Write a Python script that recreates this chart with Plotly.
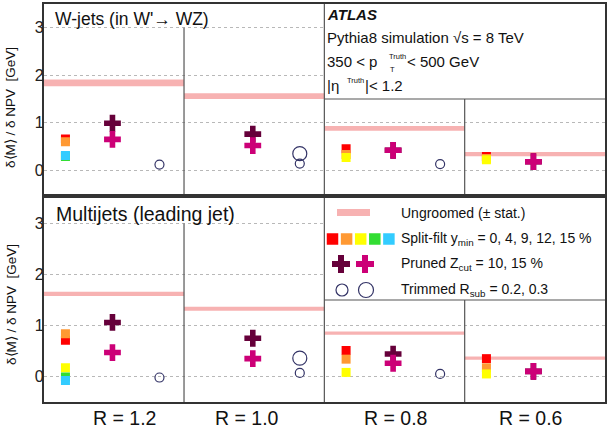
import plotly.graph_objects as go

# ---------------- data ----------------
radii = ["R = 1.2", "R = 1.0", "R = 0.8", "R = 0.6"]

# W-jets (in W' -> WZ)
ungroomed_w = [1.84, 1.56, 0.88, 0.34]
ungroomed_w_err = [0.07, 0.06, 0.05, 0.045]
splitfilt_w = {
    "0": [0.66, None, 0.455, 0.29],
    "4": [0.60, None, 0.33, 0.245],
    "9": [0.30, None, 0.27, 0.22],
    "12": [0.29, None, None, None],
    "15": [0.31, None, None, None],
}
pruned_w = {"10": [0.99, 0.76, 0.42, 0.18], "15": [0.65, 0.52, 0.42, 0.18]}
trimmed_w = {"0.2": [0.12, 0.14, 0.13, None], "0.3": [None, 0.35, None, None]}

# Multijets (leading jet)
ungroomed_m = [1.62, 1.33, 0.85, 0.36]
ungroomed_m_err = [0.04, 0.04, 0.033, 0.033]
splitfilt_m = {
    "0": [0.71, None, 0.51, 0.35],
    "4": [0.84, None, 0.34, 0.17],
    "9": [0.17, None, 0.08, 0.05],
    "12": [-0.01, None, None, None],
    "15": [-0.08, None, None, None],
}
pruned_m = {"10": [1.06, 0.75, 0.44, 0.10], "15": [0.47, 0.35, 0.26, 0.10]}
trimmed_m = {"0.2": [-0.02, 0.07, 0.05, None], "0.3": [None, 0.36, None, None]}

# ---------------- style ----------------
W, H = 608, 428
FONT = "Liberation Sans, Arial, sans-serif"
band_color = "rgba(246,170,170,0.9)"
sf_colors = {"0": "#ff0000", "4": "#ff9933", "9": "#ffff00", "12": "#33dd33", "15": "#33ccff"}
pr_colors = {"10": "#66003a", "15": "#cc0077"}
tr_sizes = {"0.2": 9, "0.3": 14}
circ_color = "#333366"
frame_color = "#333333"
offs = {"sf": 0.155, "pr": 0.49, "tr": 0.825}

def px(x):
    return x / W

def py(y):
    return 1 - y / H

fig = go.Figure()

def add_panel(xa, ya, ung, ung_err, sf, pr, tr):
    for i, (v, e) in enumerate(zip(ung, ung_err)):
        fig.add_trace(go.Scatter(
            x=[i, i + 1, i + 1, i, i], y=[v - e, v - e, v + e, v + e, v - e],
            fill="toself", fillcolor=band_color, line=dict(width=0),
            mode="lines", xaxis=xa, yaxis=ya, showlegend=False, hoverinfo="skip"))
    for k, vals in sf.items():
        xs = [i + offs["sf"] for i, v in enumerate(vals) if v is not None]
        ys = [v for v in vals if v is not None]
        fig.add_trace(go.Scatter(x=xs, y=ys, mode="markers", xaxis=xa, yaxis=ya,
                                 marker=dict(symbol="square", size=9, color=sf_colors[k], line=dict(width=0)),
                                 showlegend=False))
    for k, vals in pr.items():
        xs = [i + offs["pr"] for i, v in enumerate(vals) if v is not None]
        ys = [v for v in vals if v is not None]
        fig.add_trace(go.Scatter(x=xs, y=ys, mode="markers", xaxis=xa, yaxis=ya,
                                 marker=dict(symbol="cross", size=14, color=pr_colors[k], line=dict(width=0)),
                                 showlegend=False))
    for k, vals in tr.items():
        xs = [i + offs["tr"] for i, v in enumerate(vals) if v is not None]
        ys = [v for v in vals if v is not None]
        fig.add_trace(go.Scatter(x=xs, y=ys, mode="markers", xaxis=xa, yaxis=ya,
                                 marker=dict(symbol="circle-open", size=tr_sizes[k], color=circ_color,
                                             line=dict(width=1.2, color=circ_color)),
                                 showlegend=False))

add_panel("x", "y", ungroomed_w, ungroomed_w_err, splitfilt_w, pruned_w, trimmed_w)
add_panel("x2", "y2", ungroomed_m, ungroomed_m_err, splitfilt_m, pruned_m, trimmed_m)

# ---------------- legend samples (pixel coordinates on overlay axis) ----------------
leg_rows_y = [212.5, 239, 264, 290]
fig.add_trace(go.Scatter(x=[337, 370], y=[leg_rows_y[0]] * 2, mode="lines",
                         line=dict(color=band_color, width=7), xaxis="x3", yaxis="y3",
                         showlegend=False, hoverinfo="skip"))
for j, k in enumerate(sf_colors):
    fig.add_trace(go.Scatter(x=[332.5 + 14.1 * j], y=[leg_rows_y[1]], mode="markers",
                             marker=dict(symbol="square", size=11.5, color=sf_colors[k], line=dict(width=0)),
                             xaxis="x3", yaxis="y3", showlegend=False))
for j, k in enumerate(pr_colors):
    fig.add_trace(go.Scatter(x=[341 + 24 * j], y=[leg_rows_y[2]], mode="markers",
                             marker=dict(symbol="cross", size=15, color=pr_colors[k], line=dict(width=0)),
                             xaxis="x3", yaxis="y3", showlegend=False))
for j, k in enumerate(tr_sizes):
    fig.add_trace(go.Scatter(x=[342 + 24 * j], y=[leg_rows_y[3]], mode="markers",
                             marker=dict(symbol="circle-open", size=[12, 15][j], color=circ_color,
                                         line=dict(width=1.2, color=circ_color)),
                             xaxis="x3", yaxis="y3", showlegend=False))

# ---------------- axes ----------------
xdom = [43.7 / W, 605 / W]
ytop = [py(194), py(4)]
ybot = [py(402), py(198)]
yax = dict(range=[-0.5, 3.5], tickvals=[0, 1, 2, 3], ticks="", showgrid=True,
           gridcolor="#b8b8b8", griddash="dot", gridwidth=1, zeroline=False,
           showline=True, mirror=True, linecolor=frame_color, linewidth=1.5,
           ticklabelstandoff=-5,
           tickfont=dict(family=FONT, size=16, color="#222222"))
xax = dict(range=[0, 4], showticklabels=False, ticks="", showgrid=False, zeroline=False,
           showline=True, mirror=True, linecolor=frame_color, linewidth=1.5)

fig.update_layout(
    width=W, height=H, margin=dict(l=0, r=0, t=0, b=0),
    paper_bgcolor="white", plot_bgcolor="rgba(0,0,0,0)",
    xaxis=dict(xax, domain=xdom, anchor="y"),
    yaxis=dict(yax, domain=ytop, anchor="x"),
    xaxis2=dict(xax, domain=xdom, anchor="y2"),
    yaxis2=dict(yax, domain=ybot, anchor="x2"),
    xaxis3=dict(domain=[0, 1], range=[0, W], visible=False, anchor="y3"),
    yaxis3=dict(domain=[0, 1], range=[H, 0], visible=False, anchor="x3"),
    showlegend=False,
)

shapes = []
for xr, yr in (("x", "y"), ("x2", "y2")):
    # white box region (text box / legend) hiding grid
    shapes.append(dict(type="rect", xref=xr, yref=yr, x0=2, x1=4, y0=1.5, y1=3.5,
                       fillcolor="white", line=dict(width=0), layer="between"))
    lc = dict(color="#555555", width=1.2)
    shapes.append(dict(type="line", xref=xr, yref=yr, x0=1, x1=1, y0=-0.5, y1=3, line=lc))
    shapes.append(dict(type="line", xref=xr, yref=yr, x0=2, x1=2, y0=-0.5, y1=3.5, line=lc))
    shapes.append(dict(type="line", xref=xr, yref=yr, x0=3, x1=3, y0=-0.5, y1=1.5, line=lc))
    shapes.append(dict(type="line", xref=xr, yref=yr, x0=2, x1=4, y0=1.5, y1=1.5, line=lc))
fig.update_layout(shapes=shapes)

# ---------------- text ----------------
ann = []
def text(x, y, s, size=14, xanchor="left", **kw):
    ann.append(dict(x=px(x), y=py(y), xref="paper", yref="paper", text=s, showarrow=False,
                    xanchor=xanchor, yanchor="middle", borderpad=0,
                    font=dict(family=FONT, size=size, color="#111111"), **kw))

text(54, 18.5, "W-jets (in W'→ WZ)", 17.5)
text(55, 214, "Multijets (leading jet)", 19.5)
text(326, 15, "<b><i>ATLAS</i></b>", 15)
text(326, 38, "Pythia8 simulation √s = 8 TeV", 15)
text(326, 62, "350 < p", 15)
text(387.5, 56.5, "Truth", 7.5)
text(388.5, 69.5, "T", 7.5)
text(406, 62, "< 500 GeV", 15)
text(326, 85, "|η", 15)
text(345.5, 80.5, "Truth", 7.5)
text(364, 85, "|< 1.2", 15)

text(400, 212.5, "Ungroomed (± stat.)", 14)
text(400, 239, "Split-filt y<sub>min</sub> = 0, 4, 9, 12, 15 %", 14)
text(400, 264, "Pruned Z<sub>cut</sub> = 10, 15 %", 14)
text(400, 290, "Trimmed R<sub>sub</sub> = 0.2, 0.3", 14)

xlab_centers = [124, 246.5, 395, 530]
for c, r in zip(xlab_centers, radii):
    text(c, 417.5, r, 19.5, xanchor="center")

for yc in (108, 305):
    ann.append(dict(x=px(11), y=py(yc), xref="paper", yref="paper",
                    text="δ⟨M⟩ / δ NPV  [GeV]", showarrow=False, textangle=-90,
                    xanchor="center", yanchor="middle",
                    font=dict(family=FONT, size=13.5, color="#111111")))
fig.update_layout(annotations=ann)

fig.write_html("out.html")
